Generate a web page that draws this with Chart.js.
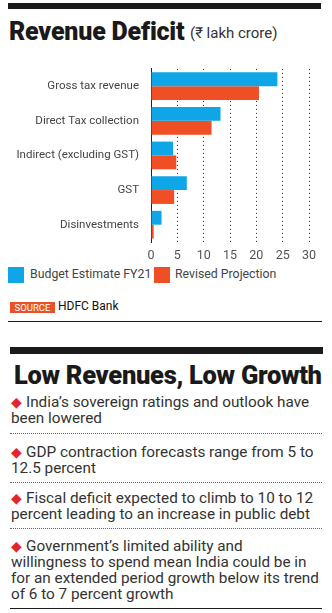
<!DOCTYPE html>
<html>
<head>
<meta charset="utf-8">
<title>Revenue Deficit</title>
<script src="https://cdn.jsdelivr.net/npm/chart.js"></script>
<style>
body{margin:0;background:#fff;font-family:Roboto,"Liberation Sans",sans-serif;color:#333;}
#page{position:relative;width:332px;height:613px;overflow:hidden;}
.abs{position:absolute;white-space:nowrap;}
.bar{position:absolute;background:#1b1b1b;}
.sq{position:absolute;width:16px;height:16px;}
.bul{position:absolute;left:11px;font-size:15.3px;line-height:16px;color:#333;white-space:nowrap;}
.bul b{color:#e2262b;font-weight:normal;font-size:14px;margin-right:4px;}
.dots{position:absolute;left:10px;width:312px;height:0;border-top:1px dotted #666;}
</style>
</head>
<body>
<div id="page">
  <div class="bar" style="left:8px;top:3px;width:313px;height:6px"></div>
  <div class="abs" style="left:9px;top:17px;font-size:25px;font-weight:900;color:#1a1a1a;letter-spacing:-0.2px">Revenue Deficit</div>
  <div class="abs" style="left:190px;top:24px;font-size:15px;color:#333">(₹ lakh crore)</div>

  <div style="position:absolute;left:0;top:50px;width:332px;height:216px">
    <canvas id="chart"></canvas>
  </div>

  <div class="sq" style="left:8px;top:267px;background:#0ea6e6"></div>
  <div class="abs" style="left:30px;top:267px;font-size:12.3px;color:#444">Budget Estimate FY21</div>
  <div class="sq" style="left:154px;top:267px;background:#f04e24"></div>
  <div class="abs" style="left:175px;top:267px;font-size:12.3px;color:#444">Revised Projection</div>

  <div class="abs" style="left:10px;top:302px;width:45px;height:11px;background:#e8522a;color:#fff;font-size:9.5px;line-height:11px;text-align:center">SOURCE</div>
  <div class="abs" style="left:58px;top:299px;font-size:12px;color:#111">HDFC Bank</div>
  <div class="bar" style="left:8px;top:321px;width:314px;height:1px"></div>

  <div class="bar" style="left:10px;top:347px;width:313px;height:7px"></div>
  <div class="abs" style="left:14px;top:360px;font-size:25.5px;font-weight:900;color:#1a1a1a;letter-spacing:-0.3px">Low Revenues, Low Growth</div>

  <div class="bul" style="top:394px"><b>◆</b>India’s sovereign ratings and outlook have<br>been lowered</div>
  <div class="dots" style="top:433px"></div>
  <div class="bul" style="top:444px"><b>◆</b>GDP contraction forecasts range from 5 to<br>12.5 percent</div>
  <div class="dots" style="top:482px"></div>
  <div class="bul" style="top:490px"><b>◆</b>Fiscal deficit expected to climb to 10 to 12<br>percent leading to an increase in public debt</div>
  <div class="dots" style="top:528px"></div>
  <div class="bul" style="top:538px"><b>◆</b>Government’s limited ability and<br>willingness to spend mean India could be in<br>for an extended period growth below its trend<br>of 6 to 7 percent growth</div>
  <div class="bar" style="left:10px;top:608px;width:312px;height:1px"></div>
</div>
<script>
const categories=['Gross tax revenue','Direct Tax collection','Indirect (excluding GST)','GST','Disinvestments'];
const budgetEstimate=[24,13.2,4.2,6.8,2.0];
const revisedProjection=[20.5,11.5,4.8,4.4,0.5];
const xTicks=[0,5,10,15,20,25,30];

const ctx=document.getElementById('chart').getContext('2d');
new Chart(ctx,{
    type:'bar',
    data:{labels:categories,datasets:[
        {label:'Budget Estimate FY21',data:budgetEstimate,backgroundColor:'#0ea6e6'},
        {label:'Revised Projection',data:revisedProjection,backgroundColor:'#f04e24'}
    ]},
    options:{
        indexAxis:'y',
        responsive:true,
        maintainAspectRatio:false,
        animation:false,
        datasets:{bar:{categoryPercentage:0.8,barPercentage:1}},
        layout:{padding:{top:0,right:23,left:0,bottom:0}},
        plugins:{legend:{display:false},tooltip:{enabled:false}},
        scales:{
            x:{
                min:0,max:30,
                afterBuildTicks:s=>{s.ticks=xTicks.map(v=>({value:v}));},
                afterFit:s=>{s.height=24;},
                grid:{color:c=>c.index===0?'rgba(0,0,0,0)':'#222',drawTicks:false,lineWidth:1},
                border:{display:false,dash:[1,3]},
                ticks:{padding:6,color:'#555',font:{family:'Roboto',size:12.5}}
            },
            y:{
                afterFit:s=>{s.width=151;},
                grid:{display:false,drawTicks:false},
                border:{display:true,color:'#222',width:1},
                ticks:{padding:12,color:'#444',font:{family:'Roboto',size:11.5}}
            }
        }
    }
});
</script>
</body>
</html>
